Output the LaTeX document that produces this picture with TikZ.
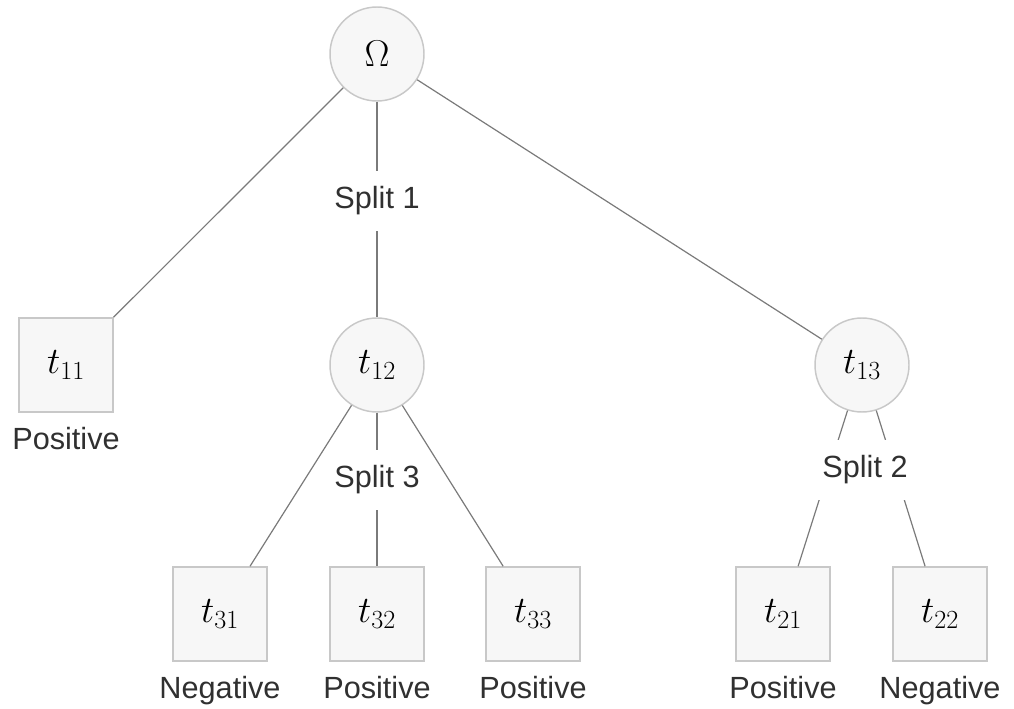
\RequirePackage{fix-cm}
\documentclass[tikz,border=0pt]{standalone}
\usepackage[no-math]{fontspec}
\usepackage{tikz}
\usetikzlibrary{positioning}
\newfontfamily\labelfont{Liberation Sans}
\definecolor{nodefill}{HTML}{F7F7F7}
\definecolor{nodeline}{HTML}{C8C8C8}
\definecolor{edgegray}{HTML}{7A7A7A}
\definecolor{txtgray}{HTML}{303030}
\tikzset{
    splitnode/.style={
        circle,                   % nodo interno: círculo
        draw=nodeline,            % borde gris claro
        fill=nodefill,            % relleno casi blanco
        line width=1.1pt,
        minimum size=70.5pt,      % mismo tamaño que las hojas
        inner sep=0pt,
        font=\fontsize{28}{34}\selectfont
    },
    leafnode/.style={
        rectangle,                % hoja: cuadrado
        draw=nodeline,
        fill=nodefill,
        line width=1.1pt,
        minimum size=70.5pt,
        inner sep=0pt,
        font=\fontsize{28}{34}\selectfont
    },
    classlabel/.style={
        inner sep=0pt,            % pegado al texto, para medir la distancia
        outer sep=0pt,
        text=txtgray,
        font=\labelfont\fontsize{23}{28}\selectfont
    },
    splitlabel/.style={
        fill=white,               % tapa la línea por detrás
        inner xsep=3pt,
        inner ysep=0pt,
        minimum height=45pt,      % hueco en la línea
        text=txtgray,
        font=\labelfont\fontsize{23}{28}\selectfont
    },
    edge/.style={
        draw=edgegray,
        line width=0.9pt
    }
}
\begin{document}
\begin{tikzpicture}[x=0.75pt, y=-0.75pt]
			\useasboundingbox (0,0) rectangle (1014,709);

			\node[splitnode] (omega) at (377,54) {$\Omega$};
			\node[leafnode] (t11) at (66,365) {$t_{11}$};
			\node[splitnode] (t12) at (377,365) {$t_{12}$};
			\node[splitnode] (t13) at (862,365) {$t_{13}$};
			\node[leafnode] (t31) at (220,614) {$t_{31}$};
			\node[leafnode] (t32) at (377,614) {$t_{32}$};
			\node[leafnode] (t33) at (533,614) {$t_{33}$};
			\node[leafnode] (t21) at (783,614) {$t_{21}$};
			\node[leafnode] (t22) at (940,614) {$t_{22}$};

			\node[classlabel, below=11pt of t11] (c11) {Positive};
			\node[classlabel, below=11pt of t31] (c31) {Negative};
			\node[classlabel, below=11pt of t32] (c32) {Positive};
			\node[classlabel, below=11pt of t33] (c33) {Positive};
			\node[classlabel, below=11pt of t21] (c21) {Positive};
			\node[classlabel, below=11pt of t22] (c22) {Negative};

			\draw[edge] (omega) -- (t11);
			\draw[edge] (omega) -- node[splitlabel, pos=0.46] (split1) {Split 1} (t12);
			\draw[edge] (omega) -- (t13);
			\draw[edge] (t12) -- (t31);
			\draw[edge] (t12) -- (t33);
			\draw[edge] (t12) -- node[splitlabel, pos=0.435] (split3) {Split 3} (t32);
			\draw[edge] (t13) -- (t21);
			\draw[edge] (t13) -- (t22);
			\node[splitlabel] (split2) at (865,470) {Split 2};
		\end{tikzpicture}
\end{document}
